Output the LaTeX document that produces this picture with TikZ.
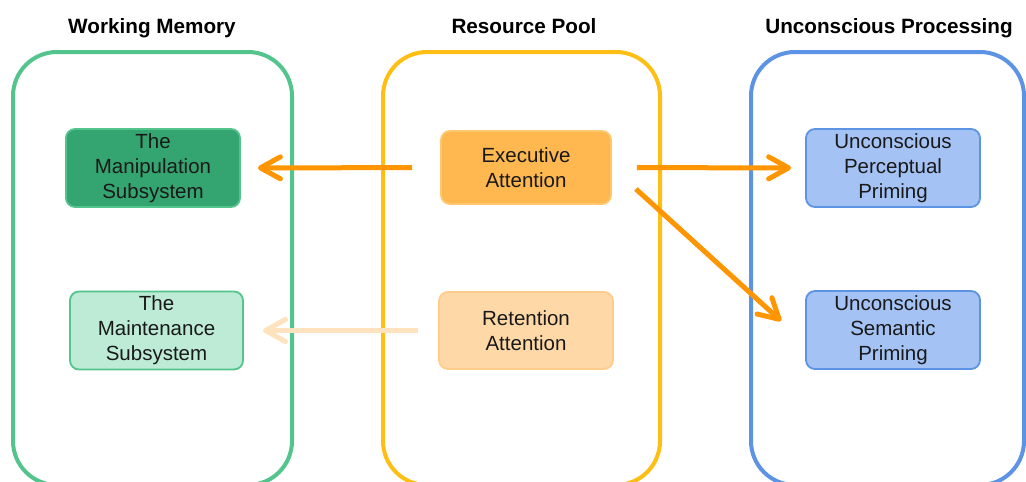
\documentclass[tikz,border=0pt]{standalone}
\usepackage{fontspec}
\setmainfont{Liberation Sans}
\usepackage{xcolor}
\usepackage{tikz}
\usetikzlibrary{positioning,shapes,arrows.meta,calc}

\definecolor{wmgreen}{RGB}{82,196,140}
\definecolor{poolyellow}{RGB}{255,190,20}
\definecolor{ucblue}{RGB}{92,147,228}
\definecolor{manipfill}{RGB}{52,165,113}
\definecolor{maintfill}{RGB}{189,235,214}
\definecolor{execfill}{RGB}{255,184,80}
\definecolor{execline}{RGB}{255,200,110}
\definecolor{retfill}{RGB}{255,216,168}
\definecolor{retline}{RGB}{255,204,140}
\definecolor{ucfill}{RGB}{164,194,244}
\definecolor{arrorange}{RGB}{255,149,0}
\definecolor{fadeorange}{RGB}{255,226,190}

\begin{document}
\begin{tikzpicture}[x=1pt,y=-1pt,
    pool/.style={draw, line width=4pt, rounded corners=44pt, minimum width=#1, minimum height=433pt, inner sep=0pt},
    box/.style={draw, line width=1.8pt, rounded corners=9pt, minimum width=174pt, minimum height=78pt, inner sep=0pt, align=center, text=black!90, font=\fontsize{20.5}{25}\selectfont},
    hdr/.style={anchor=base, font=\bfseries\fontsize{20.7}{24}\selectfont},
    flow/.style={line width=5pt, draw=arrorange, -{Straight Barb[length=20pt,width=22pt,round]}}]
    \useasboundingbox (0,0) rectangle (1026,482);
    \clip (0,0) rectangle (1026,482);

    \node[pool=279pt, draw=wmgreen] (wm) at (152.5,268.5) {};
    \node[pool=277pt, draw=poolyellow] (rp) at (521.5,268.5) {};
    \node[pool=273pt, draw=ucblue] (up) at (887.5,268.5) {};

    \node[hdr] (wmtitle) at (152,33) {Working Memory};
    \node[hdr] (rptitle) at (524,33) {Resource Pool};
    \node[hdr] (uptitle) at (889,33) {Unconscious Processing};

    \node[box, fill=manipfill, draw=wmgreen] (manip) at (153,168) {The\\Manipulation\\Subsystem};
    \node[box, fill=maintfill, draw=wmgreen, minimum width=173pt] (maint) at (156.5,330.5) {The\\Maintenance\\Subsystem};
    \node[box, fill=execfill, draw=execline, minimum width=170pt, minimum height=73pt] (exec) at (526,167.5) {Executive\\Attention};
    \node[box, fill=retfill, draw=retline, minimum height=77pt] (ret) at (526,330.5) {Retention\\Attention};
    \node[box, fill=ucfill, draw=ucblue] (perc) at (893,168) {Unconscious\\Perceptual\\Priming};
    \node[box, fill=ucfill, draw=ucblue] (sem) at (893,330) {Unconscious\\Semantic\\Priming};

    \draw[flow, shorten <=28pt, shorten >=17pt] (exec) -- (manip);
    \draw[flow, draw=fadeorange, shorten <=20pt, shorten >=19pt] (ret) -- (maint);
    \draw[flow, shorten <=25pt, shorten >=14pt] (exec) -- (perc);
    \draw[flow] ($(exec.east)+(24,21.5)$) -- ($(sem.west)+(-24,-9)$);
\end{tikzpicture}
\end{document}
